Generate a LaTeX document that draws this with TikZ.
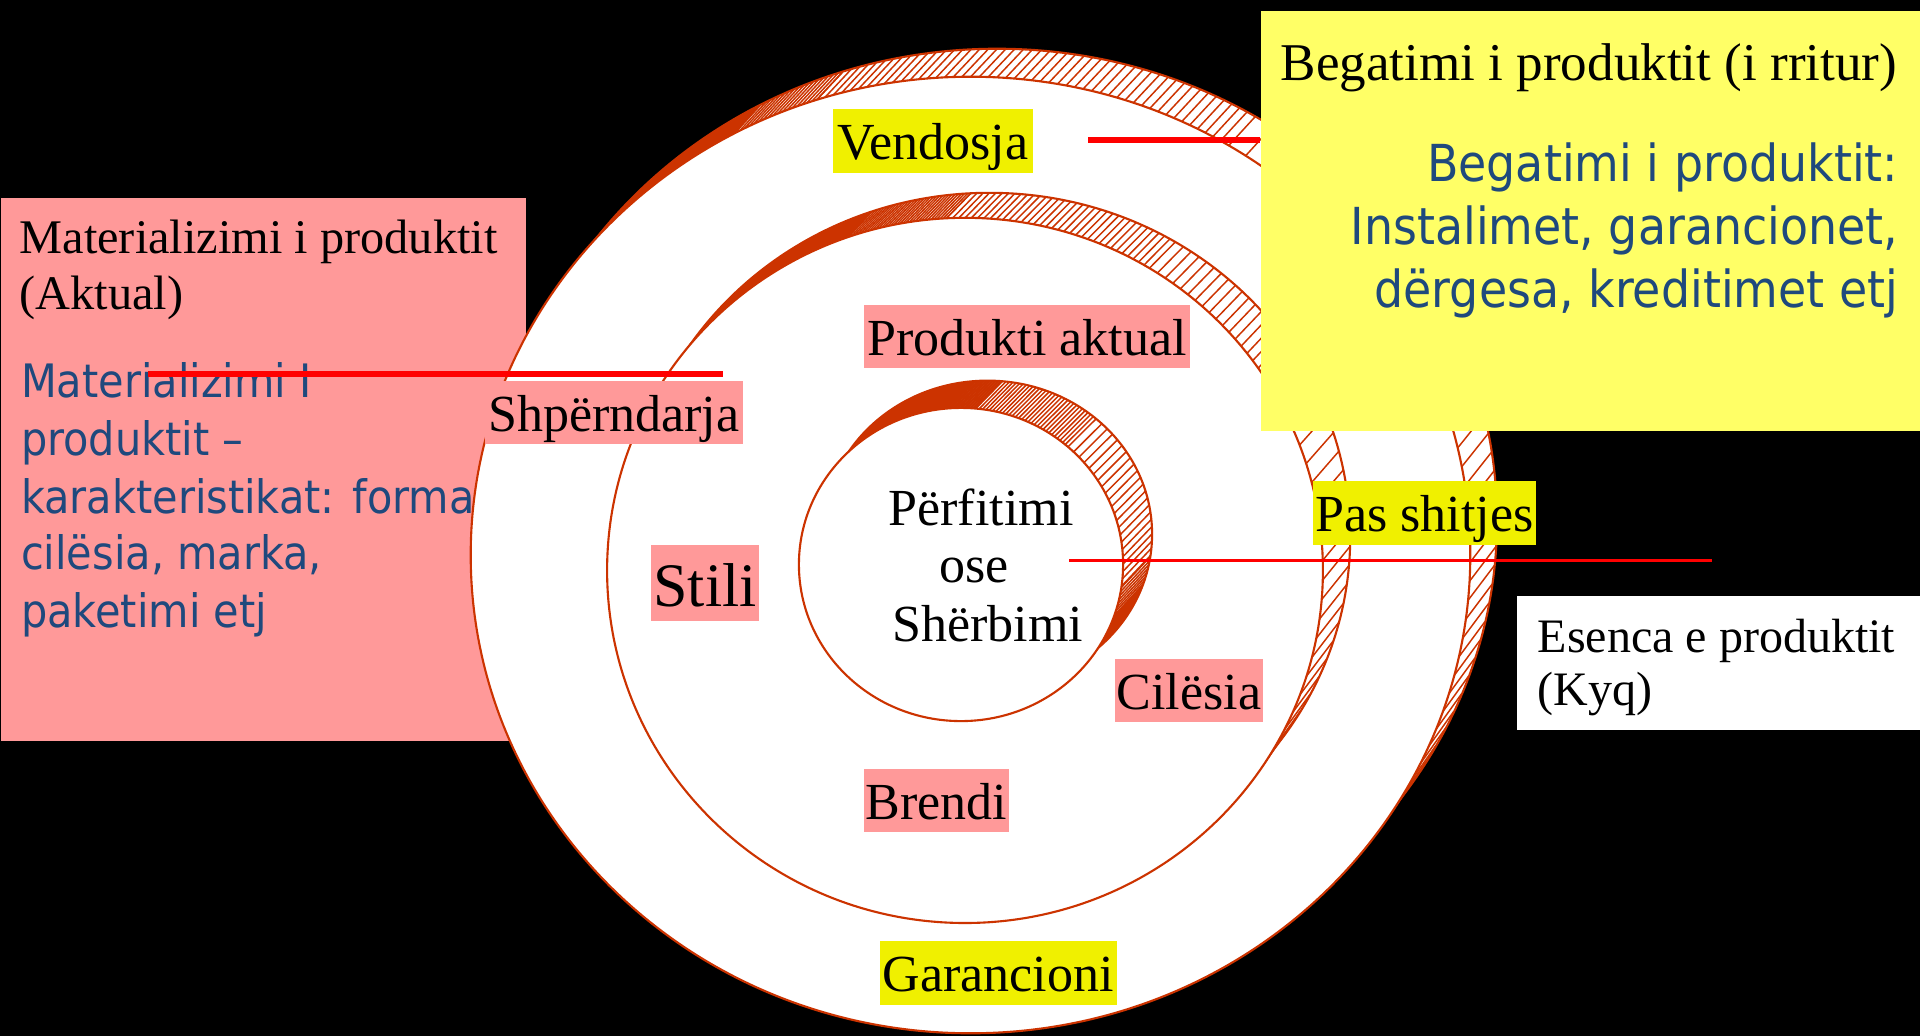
\documentclass[tikz,border=0pt]{standalone}
\usepackage{fontspec}
\setmainfont{Liberation Serif}
\newfontfamily\bluesans[FakeStretch=0.9]{DejaVu Sans}

\definecolor{ringred}{RGB}{204,51,0}
\definecolor{pinkbg}{RGB}{255,153,153}
\definecolor{tagyellow}{RGB}{240,240,0}
\definecolor{paleyellow}{RGB}{255,255,102}
\definecolor{noteblue}{RGB}{31,73,125}
\definecolor{rulered}{RGB}{255,0,0}

% A shaded ring is a back face (shifted up and to the right) joined to the
% front face by straight strokes; the front face is then laid over it.
% \ringset: #1,#2 front centre, #3,#4 front radii, #5,#6 back centre, #7,#8 back radii
\newcommand\ringset[8]{%
  \def\rBx{#1}\def\rBy{#2}\def\rBa{#3}\def\rBb{#4}%
  \def\rAx{#5}\def\rAy{#6}\def\rAa{#7}\def\rAb{#8}%
  \pgfmathsetmacro\rBacm{#3/100}\pgfmathsetmacro\rBbcm{#4/100}%
  \pgfmathsetmacro\rAacm{#7/100}\pgfmathsetmacro\rAbcm{#8/100}}
\newcommand\ringback{%
  \fill[white] (\rAx,\rAy) ellipse [x radius=\rAacm cm, y radius=\rAbcm cm];}
% strokes for parameter values #1, #2, ..., #3 (degrees)
\newcommand\ringstrokes[3]{%
  \foreach \t in {#1,#2,...,#3}{%
    \draw[hatch] ({\rAx+\rAa*cos(\t)},{\rAy-\rAb*sin(\t)})
      -- ({\rBx+\rBa*cos(\t)},{\rBy-\rBb*sin(\t)});}}
% solid band between the two faces for parameter values #1 to #2
\newcommand\ringsolid[2]{%
  \fill[ringred]
    plot[variable=\t,domain=#1:#2,samples=40] ({\rAx+\rAa*cos(\t)},{\rAy-\rAb*sin(\t)})
    -- plot[variable=\t,domain=#2:#1,samples=40] ({\rBx+\rBa*cos(\t)},{\rBy-\rBb*sin(\t)})
    -- cycle;}
\newcommand\ringfront{%
  \draw[ring] (\rAx,\rAy) ellipse [x radius=\rAacm cm, y radius=\rAbcm cm];
  \filldraw[ring,fill=white] (\rBx,\rBy) ellipse [x radius=\rBacm cm, y radius=\rBbcm cm];}

\begin{document}
\begin{tikzpicture}[x=0.01cm,y=-0.01cm,
  ring/.style={draw=ringred,line width=0.6pt},
  hatch/.style={draw=ringred,line width=0.42pt},
  panel/.style={rectangle,inner sep=0pt,anchor=north west},
  tag/.style={rectangle,inner sep=0pt,text height=0.37cm,text depth=0pt,
    minimum height=0.63cm,font=\fontsize{14.8pt}{17pt}\selectfont},
  pinktag/.style={tag,fill=pinkbg},
  yellowtag/.style={tag,fill=tagyellow},
  serif/.style={inner sep=0pt,font=\fontsize{#1}{1.2\dimexpr#1\relax}\selectfont},
  note/.style={inner sep=0pt,text=noteblue,font=\bluesans\fontsize{#1}{1.2\dimexpr#1\relax}\selectfont},
  thickrule/.style={draw=rulered,line width=1.65pt},
  thinrule/.style={draw=rulered,line width=0.6pt}]

\useasboundingbox (0,0) rectangle (1920,1036);
\fill[black] (0,0) rectangle (1920,1036);

% panel behind the rings on the left
\node[panel,fill=pinkbg,minimum width=5.25cm,minimum height=5.43cm] (matbox) at (0,197) {};

% outer ring
\ringset{970.5}{555}{499.5}{478}{997}{520.3}{499.7}{471.3}
\ringback
\ringstrokes{-40}{-37.7}{60}
\ringstrokes{60}{61}{108}
\ringstrokes{108}{108.6}{118}
\ringsolid{118}{230}
\ringfront

% middle ring
\ringset{965}{570.4}{357.7}{352.4}{989.4}{537}{360.6}{344}
\ringback
\ringstrokes{-40}{-36.8}{35}
\ringstrokes{35}{36.5}{60}
\ringstrokes{60}{61}{93}
\ringstrokes{93}{93.5}{109}
\ringsolid{109}{230}
\ringfront

% inner ring
\ringset{961}{564.5}{162}{156.5}{987.5}{534.2}{164.5}{153.5}
\ringback
\ringsolid{-130}{-19}
\ringstrokes{-19}{-17.5}{-8}
\ringstrokes{-8}{-5.3}{50}
\ringstrokes{50}{51.2}{85}
\ringstrokes{85}{85.5}{95}
\ringsolid{95}{230}
\ringfront

% labels on the rings
\node[yellowtag,minimum width=2.00cm] (vendosja) at (933,141) {Vendosja};
\node[pinktag,minimum width=3.26cm] (aktual) at (1027,336.5) {Produkti aktual};
\node[pinktag,minimum width=2.58cm] (shperndarja) at (613.8,412.5) {Shpërndarja};
\node[pinktag,minimum width=1.08cm,minimum height=0.76cm,text height=0.46cm,
  font=\fontsize{17.6pt}{20pt}\selectfont] (stili) at (705,583) {Stili};
\node[yellowtag,minimum width=2.23cm] (pas) at (1424.5,513) {Pas shitjes};
\node[pinktag,minimum width=1.48cm] (cilesia) at (1188.8,690.8) {Cilësia};
\node[pinktag,minimum width=1.45cm] (brendi) at (936.5,800.8) {Brendi};
\node[yellowtag,minimum width=2.37cm] (garancioni) at (998.3,973) {Garancioni};

% core of the product
\node[serif=14.8pt,anchor=base] (core1) at (981,525) {Përfitimi};
\node[serif=14.8pt,anchor=base] (core2) at (974.4,582.7) {ose};
\node[serif=14.8pt,anchor=base] (core3) at (987.7,641.7) {Shërbimi};

% upper right panel
\node[panel,fill=paleyellow,minimum width=6.6cm,minimum height=4.2cm] (begbox) at (1260,10) {};
\node[serif=15.1pt,anchor=base west] (begtitle) at (1280,80) {Begatimi i produktit (i rritur)};
\node[note=14.5pt,anchor=base east] (beg1) at (1899,181) {Begatimi i produktit:};
\node[note=14.5pt,anchor=base east] (beg2) at (1899,244.5) {Instalimet, garancionet,};
\node[note=14.5pt,anchor=base east] (beg3) at (1899,307.7) {dërgesa, kreditimet etj};

% lower right panel
\node[panel,fill=white,minimum width=4.04cm,minimum height=1.334cm] (esbox) at (1516,595.6) {};
\node[serif=13.66pt,anchor=base west] (es1) at (1537,652) {Esenca e produktit};
\node[serif=13.66pt,anchor=base west] (es2) at (1537,705.5) {(Kyq)};

% text of the left panel
\node[serif=13.74pt,anchor=base west] (mat1) at (19,253.6) {Materializimi i produktit};
\node[serif=13.74pt,anchor=base west] (mat2) at (19,309.6) {(Aktual)};
\node[note=13.1pt,anchor=base west] (matn1) at (20.4,397) {Materializimi I};
\node[note=13.1pt,anchor=base west] (matn2) at (20.4,455) {produktit –};
\node[note=13.1pt,anchor=base west] (matn3) at (20.4,513) {karakteristikat: forma};
\node[note=13.1pt,anchor=base west] (matn4) at (20.4,569.6) {cilësia, marka,};
\node[note=13.1pt,anchor=base west] (matn5) at (20.4,627.5) {paketimi etj};

% pointer rules
\coordinate (vrule) at (1088,140.3);
\draw[thickrule] (vrule) -- (vrule -| begbox.west);
\coordinate (srule-a) at (147.8,374);
\coordinate (srule-b) at (723.2,374);
\draw[thickrule] (srule-a) -- (srule-b);
\coordinate (crule-a) at (1069,560.5);
\coordinate (crule-b) at (1712,560.5);
\draw[thinrule] (crule-a) -- (crule-b);
\end{tikzpicture}
\end{document}
